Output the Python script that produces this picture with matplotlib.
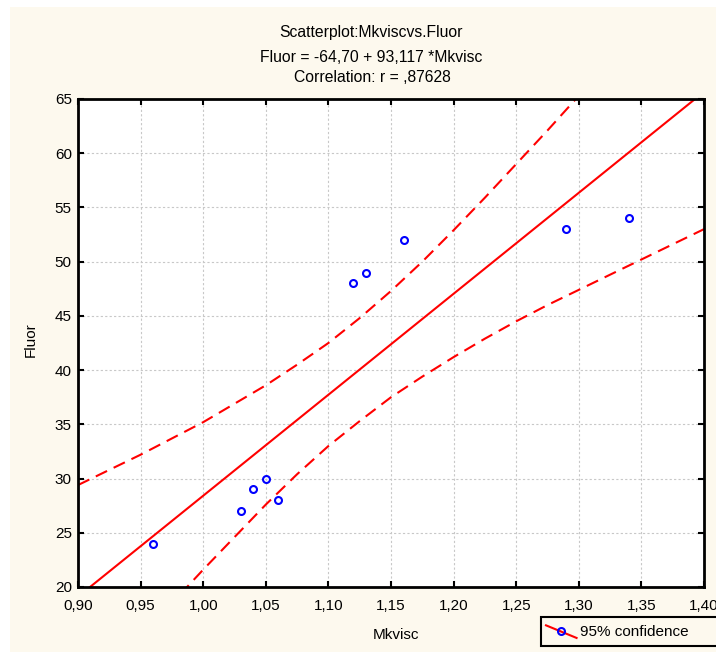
import numpy as np
import matplotlib
matplotlib.use("Agg")
import matplotlib.pyplot as plt
from matplotlib.lines import Line2D
from matplotlib.patches import Rectangle
from matplotlib.legend_handler import HandlerBase

plt.rcParams['font.family'] = ['Liberation Sans', 'DejaVu Sans']

# observations
mkvisc = [0.96, 1.03, 1.04, 1.05, 1.06, 1.12, 1.13, 1.16, 1.29, 1.34]
fluor = [24, 27, 29, 30, 28, 48, 49, 52, 53, 54]

# fitted line (from title)
intercept = -64.70
slope = 93.117

# 95% confidence band
band_x = [0.900, 0.925, 0.950, 0.975, 1.000, 1.025, 1.050, 1.075, 1.100, 1.125, 1.150,
          1.175, 1.200, 1.225, 1.250, 1.275, 1.300, 1.325, 1.350, 1.375, 1.400]
band_upper = [29.4, 30.8, 32.2, 33.7, 35.2, 36.9, 38.6, 40.5, 42.5, 44.8, 47.3,
              50.0, 52.9, 55.9, 59.0, 62.1, 65.3, 68.5, 71.8, 75.1, 78.3]
band_lower = [8.9, 12.1, 15.3, 18.5, 21.6, 24.6, 27.6, 30.4, 33.0, 35.3, 37.5,
              39.4, 41.2, 42.9, 44.5, 46.0, 47.4, 48.8, 50.2, 51.6, 53.0]

x_ticks = [0.90, 0.95, 1.00, 1.05, 1.10, 1.15, 1.20, 1.25, 1.30, 1.35, 1.40]
y_ticks = [20, 25, 30, 35, 40, 45, 50, 55, 60, 65]

FS = 11
CREAM = '#fdf9ee'


class DiagHandler(HandlerBase):
    # red diagonal line with a blue open circle on it
    def create_artists(self, legend, orig_handle, xdescent, ydescent,
                       width, height, fontsize, trans):
        ln = Line2D([0, width], [height * 1.1, -height * 0.2], color='red', lw=1.5, transform=trans)
        mk = Line2D([width / 2], [height / 2], marker='o', ms=5, mfc='none',
                    mec='blue', mew=1.5, ls='none', transform=trans)
        return [ln, mk]


W, H = 716, 652
fig = plt.figure(figsize=(W / 100, H / 100), dpi=100, facecolor='white')
fig.patches.append(Rectangle((10 / W, 0), 1, 1 - 7 / H, transform=fig.transFigure,
                             facecolor=CREAM, edgecolor='none', zorder=-10))

ax = fig.add_axes([78 / W, 65 / H, (704 - 78) / W, (587 - 99) / H])
ax.set_facecolor('white')

ax.set_xlim(0.90, 1.40)
ax.set_ylim(20, 65)
ax.set_xticks(x_ticks)
ax.set_yticks(y_ticks)
ax.set_xticklabels([('%.2f' % v).replace('.', ',') for v in x_ticks])
ax.set_yticklabels([str(v) for v in y_ticks])
ax.grid(True, color='#c8c8c8', ls=(0, (2, 2)), lw=0.8)
ax.set_axisbelow(True)
ax.tick_params(direction='in', length=4, width=1.5, top=True, right=True,
               labelsize=FS, pad=4.5)
ax.tick_params(axis='x', pad=9)
for s in ax.spines.values():
    s.set_linewidth(2)

xl = np.array([0.90, 1.40])
ax.plot(xl, intercept + slope * xl, color='red', lw=1.5)
ax.plot(band_x, band_upper, color='red', lw=1.5, ls=(0, (6, 3.5)))
ax.plot(band_x, band_lower, color='red', lw=1.5, ls=(0, (6, 3.5)))
ax.plot(mkvisc, fluor, 'o', ms=5, mfc='none', mec='blue', mew=1.5, clip_on=False)

fig.text(371 / W, 1 - 33 / H, 'Scatterplot:Mkviscvs.Fluor', ha='center', va='center', fontsize=11.3)
fig.text(371 / W, 1 - 58 / H, 'Fluor = -64,70 + 93,117 *Mkvisc', ha='center', va='center', fontsize=11.3)
fig.text(372 / W, 1 - 77 / H, 'Correlation: r = ,87628', ha='center', va='center', fontsize=11.3)
fig.text(396 / W, 1 - 635 / H, 'Mkvisc', ha='center', va='center', fontsize=FS)
fig.text(31 / W, 1 - 340 / H, 'Fluor', ha='center', va='center', rotation=90, fontsize=FS)

# legend box runs off the right edge like in the original
fig.patches.append(Rectangle((541 / W, 1 - 646 / H), 200 / W, 29 / H, transform=fig.transFigure,
                             facecolor=CREAM, edgecolor='black', lw=1.5, zorder=5))
leg = fig.legend([object()], ['95% confidence'], handler_map={object: DiagHandler()},
                 loc='center left', bbox_to_anchor=(546 / W, 1 - 632 / H), frameon=False,
                 fontsize=FS, handlelength=2.0, handleheight=0.6, borderpad=0,
                 borderaxespad=0, handletextpad=0.25)
leg.set_zorder(6)

fig.savefig('out.png', dpi=100, facecolor=fig.get_facecolor())
